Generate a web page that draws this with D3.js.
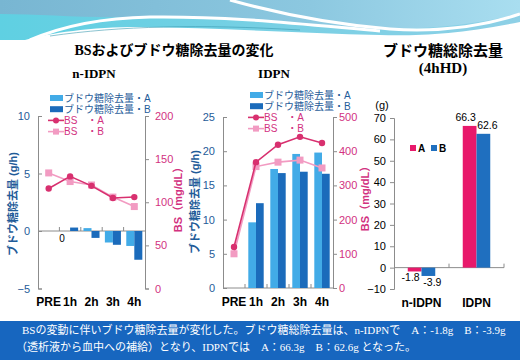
<!DOCTYPE html>
<html><head><meta charset="utf-8">
<script src="https://cdn.jsdelivr.net/npm/d3@7"></script>
<style>
html,body{margin:0;padding:0;background:#fff;}
svg{display:block;}
</style></head>
<body>
<svg id="c" width="520" height="360"></svg>
<script>
// ---------- data ----------
const times = ["PRE", "1h", "2h", "3h", "4h"];
const series = ["A", "B"];
// n-IDPN
const nIdpnGlucA = [null, 0, 0.25, -1.0, -1.3];
const nIdpnGlucB = [null, 0.3, -0.6, -1.2, -2.5];
const nIdpnBsA = [116, 130, 119, 105, 106];
const nIdpnBsB = [134, 124, 120, 106, 95];
// IDPN
const idpnGlucA = [null, 9.6, 17.4, 19.6, 19.8];
const idpnGlucB = [null, 12.4, 16.8, 17.0, 16.7];
const idpnBsA = [120, 368, 419, 442, 424];
const idpnBsB = [100, 355, 368, 374, 351];
// total removal (4hHD)
const totalGroups = ["n-IDPN", "IDPN"];
const totalA = [-1.8, 66.3];
const totalB = [-3.9, 62.6];
// ticks
const ticksL1 = [-5, 0, 5, 10];
const ticksR1 = [0, 50, 100, 150, 200];
const ticksL2 = [0, 5, 10, 15, 20, 25];
const ticksR2 = [0, 100, 200, 300, 400, 500];
const ticksT = [-10, 0, 10, 20, 30, 40, 50, 60, 70];
// texts
const mainTitle = "BSおよびブドウ糖除去量の変化";
const sub1 = "n-IDPN", sub2 = "IDPN";
const totTitle1 = "ブドウ糖総除去量", totTitle2 = "(4hHD)";
const legBarA = "ブドウ糖除去量・A", legBarB = "ブドウ糖除去量・B";
const legBsA = "BS　・A", legBsB = "BS　・B";
const yTitleL = "ブドウ糖除去量 (g/h)", yTitleR = "BS（mg/dL）";
const note1 = "BSの変動に伴いブドウ糖除去量が変化した。ブドウ糖総除去量は、n-IDPNで　A：-1.8g　B：-3.9g";
const note2 = "（透析液から血中への補給）となり、IDPNでは　A：66.3g　B：62.6g となった。";

// ---------- style ----------
const colBarA = "#42abe7", colBarB = "#1b6bbb";
const colBsA = "#d8306f", colBsB = "#f29bc2";
const colBlueTxt = "#1f5c99", colPinkTxt = "#d2327f";
const colTotA = "#e8196b", colTotB = "#1f6fbf";
const axisCol = "#8c8c8c";
const SANS = "'Liberation Sans', Arial, 'Noto Sans CJK JP', sans-serif";
const SERIF = "'Liberation Serif', 'Noto Sans CJK JP', serif";

const svg = d3.select("#c");

// ---------- top decoration ----------
const defs = svg.append("defs");
const g1 = defs.append("linearGradient").attr("id","topg").attr("x1","0").attr("x2","1").attr("y1","0").attr("y2","0");
g1.append("stop").attr("offset","0").attr("stop-color","#78b6d2");
g1.append("stop").attr("offset","0.6").attr("stop-color","#8cc8e0");
g1.append("stop").attr("offset","1").attr("stop-color","#a9def0");
const g2 = defs.append("linearGradient").attr("id","cyg").attr("x1","0").attr("x2","1").attr("y1","0").attr("y2","0");
g2.append("stop").attr("offset","0").attr("stop-color","#5fd0e2");
g2.append("stop").attr("offset","1").attr("stop-color","#8ed0e6");
svg.append("path").attr("d","M0,0 H520 V18 C470,30 430,34 380,33 C300,31 220,26 140,25 C90,25 50,32 20,40 H0 Z").attr("fill","url(#topg)");
svg.append("path").attr("d","M0,14 C40,14 80,18 130,17 C200,16 260,22 330,27 C390,31 450,30 520,14 V22 C460,34 420,36 380,35 C300,33 220,28 140,27 C90,27 50,33 25,40 H0 Z").attr("fill","url(#cyg)");
svg.append("path").attr("d","M30,40 C60,27 100,18 150,17 C230,16 300,24 380,31").attr("fill","none").attr("stroke","#fff").attr("stroke-width",3);
svg.append("path").attr("d","M230,0 C280,14 330,24 390,29 C450,33 490,24 520,14").attr("fill","none").attr("stroke","#fff").attr("stroke-width",3);
svg.append("path").attr("d","M50,36 C120,26 200,24 300,30").attr("fill","none").attr("stroke","#3d9ab0").attr("stroke-width",0.6);

// ---------- titles ----------
function txt(x, y, s, o) {
  const t = svg.append("text").attr("x", x).attr("y", y).text(s)
    .attr("font-family", o.ff || SANS).attr("font-size", o.fs || 11)
    .attr("font-weight", o.fw || "normal").attr("fill", o.fill || "#000")
    .attr("text-anchor", o.anchor || "middle");
  if (o.rot) t.attr("transform", `rotate(-90 ${x} ${y})`);
  if (o.db) t.attr("dominant-baseline", o.db);
  return t;
}
txt(174, 55, mainTitle, {ff: SERIF, fs: 14, fw: "bold"});
txt(94, 78, sub1, {ff: SERIF, fs: 13, fw: "bold"});
txt(274, 78, sub2, {ff: SERIF, fs: 13, fw: "bold"});
txt(443, 56, totTitle1, {ff: SERIF, fs: 15, fw: "bold"});
txt(443, 73, totTitle2, {ff: SERIF, fs: 15, fw: "bold"});

// ---------- dual axis chart ----------
function dualChart(cfg) {
  const g = svg.append("g");
  const x0 = d3.scaleBand().domain(times).range([cfg.left, cfg.right])
    .paddingInner(cfg.pad).paddingOuter(cfg.pad / 2);
  const x1 = d3.scaleBand().domain(series).range([0, x0.bandwidth()]);
  const yL = d3.scaleLinear().domain(cfg.domL).range([cfg.bottom, cfg.top]);
  const yR = d3.scaleLinear().domain(cfg.domR).range([cfg.bottom, cfg.top]);
  const cx = t => x0(t) + x0.bandwidth() / 2;

  // left axis
  const aL = g.append("g").attr("transform", `translate(${cfg.left},0)`)
    .call(d3.axisLeft(yL).tickValues(cfg.ticksL).tickSize(-4).tickPadding(cfg.padL));
  aL.select(".domain").attr("stroke", axisCol);
  aL.selectAll(".tick line").attr("stroke", axisCol);
  aL.selectAll("text").attr("font-family", SANS).attr("font-size", 11).attr("fill", colBlueTxt);
  // right axis
  const aR = g.append("g").attr("transform", `translate(${cfg.right},0)`)
    .call(d3.axisRight(yR).tickValues(cfg.ticksR).tickSize(4).tickPadding(cfg.padR));
  aR.select(".domain").attr("stroke", axisCol);
  aR.selectAll(".tick line").attr("stroke", axisCol);
  aR.selectAll("text").attr("font-family", SANS).attr("font-size", 11).attr("fill", colPinkTxt);

  // category axis line at zero
  const y0 = yL(0);
  g.append("line").attr("x1", cfg.left).attr("x2", cfg.right).attr("y1", y0).attr("y2", y0).attr("stroke", axisCol);
  const step = x0.step();
  times.forEach((t, i) => {
    if (i > 0) {
      const bx = cfg.left + i * step;
      g.append("line").attr("x1", bx).attr("x2", bx).attr("y1", y0).attr("y2", y0 - 4).attr("stroke", axisCol);
    }
  });
  // category labels
  g.selectAll("text.cat").data(times).join("text").attr("class", "cat")
    .attr("x", d => cx(d)).attr("y", cfg.catY).attr("text-anchor", "middle")
    .attr("font-family", SANS).attr("font-size", 12).attr("font-weight", "bold").text(d => d);

  // bars
  const bars = [];
  times.forEach((t, i) => {
    if (cfg.gA[i] !== null) bars.push({t, s: "A", v: cfg.gA[i]});
    if (cfg.gB[i] !== null) bars.push({t, s: "B", v: cfg.gB[i]});
  });
  g.selectAll("rect.bar").data(bars).join("rect").attr("class", "bar")
    .attr("x", d => x0(d.t) + x1(d.s)).attr("width", x1.bandwidth())
    .attr("y", d => Math.min(yL(d.v), yL(0))).attr("height", d => Math.abs(yL(d.v) - yL(0)))
    .attr("fill", d => d.s === "A" ? colBarA : colBarB);
  // zero data label
  if (cfg.zeroLabel) {
    bars.filter(d => d.v === 0).forEach(d => {
      g.append("text").attr("x", x0(d.t) + x1(d.s) + x1.bandwidth() / 2 - 4).attr("y", yL(0) + 11)
        .attr("text-anchor", "middle").attr("font-family", SANS).attr("font-size", 10).text("0");
    });
  }

  // lines
  const line = d3.line().x((d, i) => cx(times[i])).y(d => yR(d));
  g.append("path").attr("d", line(cfg.bsB)).attr("fill", "none").attr("stroke", colBsB).attr("stroke-width", 1.6);
  g.selectAll("rect.mb").data(cfg.bsB).join("rect").attr("class", "mb")
    .attr("x", (d, i) => cx(times[i]) - 3.5).attr("y", d => yR(d) - 3.5)
    .attr("width", 7).attr("height", 7).attr("fill", colBsB);
  g.append("path").attr("d", line(cfg.bsA)).attr("fill", "none").attr("stroke", colBsA).attr("stroke-width", 1.6);
  g.selectAll("circle.ma").data(cfg.bsA).join("circle").attr("class", "ma")
    .attr("cx", (d, i) => cx(times[i])).attr("cy", d => yR(d)).attr("r", 3.2).attr("fill", colBsA);

  // legend
  const lx = cfg.legX, ly = cfg.legY, dy = 11.2;
  g.append("rect").attr("x", lx).attr("y", ly - 3).attr("width", 13).attr("height", 6).attr("fill", colBarA);
  g.append("rect").attr("x", lx).attr("y", ly + dy - 3).attr("width", 13).attr("height", 6).attr("fill", colBarB);
  g.append("line").attr("x1", lx - 2).attr("x2", lx + 14).attr("y1", ly + 2 * dy).attr("y2", ly + 2 * dy).attr("stroke", colBsA).attr("stroke-width", 1.6);
  g.append("circle").attr("cx", lx + 6).attr("cy", ly + 2 * dy).attr("r", 3).attr("fill", colBsA);
  g.append("line").attr("x1", lx - 2).attr("x2", lx + 14).attr("y1", ly + 3 * dy).attr("y2", ly + 3 * dy).attr("stroke", colBsB).attr("stroke-width", 1.6);
  g.append("rect").attr("x", lx + 3).attr("y", ly + 3 * dy - 3).attr("width", 6).attr("height", 6).attr("fill", colBsB);
  [[legBarA, colBlueTxt], [legBarB, colBlueTxt], [legBsA, colPinkTxt], [legBsB, colPinkTxt]].forEach((p, i) => {
    g.append("text").attr("x", lx + 14).attr("y", ly + i * dy).attr("dy", "0.36em")
      .attr("font-family", SANS).attr("font-size", 10).attr("fill", p[1]).text(p[0]);
  });

  // axis titles
  txt(cfg.tLx, cfg.tLy, yTitleL, {fs: 11, fw: "bold", fill: colBlueTxt, rot: true, db: "central"});
  txt(cfg.tRx, cfg.tRy, yTitleR, {fs: 11, fw: "bold", fill: colPinkTxt, rot: true, db: "central"});
}

dualChart({
  left: 38, right: 145, top: 116, bottom: 288.5, pad: 0.25,
  domL: [-5, 10], domR: [0, 200], ticksL: ticksL1, ticksR: ticksR1, padL: 8, padR: 6,
  gA: nIdpnGlucA, gB: nIdpnGlucB, bsA: nIdpnBsA, bsB: nIdpnBsB,
  catY: 306, legX: 50, legY: 98, zeroLabel: true,
  tLx: 13, tLy: 204, tRx: 178, tRy: 197
});
dualChart({
  left: 223, right: 333, top: 117, bottom: 288, pad: 0.3,
  domL: [0, 25], domR: [0, 500], ticksL: ticksL2, ticksR: ticksR2, padL: 8, padR: 2,
  gA: idpnGlucA, gB: idpnGlucB, bsA: idpnBsA, bsB: idpnBsB,
  catY: 306, legX: 250, legY: 95, zeroLabel: false,
  tLx: 195, tLy: 202, tRx: 365, tRy: 196
});

// ---------- total removal chart ----------
(function () {
  const left = 394, right = 504;
  const x0 = d3.scaleBand().domain(totalGroups).range([left, right]).paddingInner(0.5).paddingOuter(0.25);
  const x1 = d3.scaleBand().domain(series).range([0, x0.bandwidth()]);
  const y = d3.scaleLinear().domain([-10, 70]).range([289, 118]);
  const g = svg.append("g");
  const ax = g.append("g").attr("transform", `translate(${left},0)`)
    .call(d3.axisLeft(y).tickValues(ticksT).tickSize(4).tickPadding(4));
  ax.select(".domain").attr("stroke", axisCol);
  ax.selectAll(".tick line").attr("stroke", axisCol);
  ax.selectAll("text").attr("font-family", SANS).attr("font-size", 11).attr("fill", "#000");
  const y0 = y(0);
  g.append("line").attr("x1", left).attr("x2", right).attr("y1", y0).attr("y2", y0).attr("stroke", axisCol);
  [1, 2].forEach(i => {
    const bx = left + i * (right - left) / 2;
    g.append("line").attr("x1", bx).attr("x2", bx).attr("y1", y0).attr("y2", y0 - 4).attr("stroke", axisCol);
  });
  const bars = [];
  totalGroups.forEach((c, i) => { bars.push({c, s: "A", v: totalA[i]}); bars.push({c, s: "B", v: totalB[i]}); });
  g.selectAll("rect.tb").data(bars).join("rect").attr("class", "tb")
    .attr("x", d => x0(d.c) + x1(d.s)).attr("width", x1.bandwidth())
    .attr("y", d => Math.min(y(d.v), y0)).attr("height", d => Math.abs(y(d.v) - y0))
    .attr("fill", d => d.s === "A" ? colTotA : colTotB);
  g.selectAll("text.tl").data(bars).join("text").attr("class", "tl")
    .attr("x", d => x0(d.c) + x1(d.s) + x1.bandwidth() / 2 + (d.s === "B" ? 4 : -4))
    .attr("y", d => d.v >= 0 ? y(d.v) - 5 : y(d.v) + 10)
    .attr("text-anchor", "middle").attr("font-family", SANS).attr("font-size", 10.5).text(d => d.v.toFixed(1));
  g.selectAll("text.tc").data(totalGroups).join("text").attr("class", "tc")
    .attr("x", d => x0(d) + x0.bandwidth() / 2).attr("y", 307).attr("text-anchor", "middle")
    .attr("font-family", SANS).attr("font-size", 12).attr("font-weight", "bold").text(d => d);
  txt(382, 109, "(g)", {fs: 11});
  // legend
  g.append("rect").attr("x", 410).attr("y", 145).attr("width", 6).attr("height", 6).attr("fill", colTotA);
  g.append("text").attr("x", 418).attr("y", 148).attr("dy", "0.36em").attr("font-family", SANS).attr("font-size", 10).attr("font-weight", "bold").text(series[0]);
  g.append("rect").attr("x", 431).attr("y", 145).attr("width", 6).attr("height", 6).attr("fill", colTotB);
  g.append("text").attr("x", 439).attr("y", 148).attr("dy", "0.36em").attr("font-family", SANS).attr("font-size", 10).attr("font-weight", "bold").text(series[1]);
})();

// ---------- bottom banner ----------
svg.append("rect").attr("x", 0).attr("y", 321).attr("width", 520).attr("height", 39).attr("fill", "#1766bf");
txt(22, 334, note1, {ff: SERIF, fs: 11, fill: "#fff", anchor: "start"});
txt(16, 351, note2, {ff: SERIF, fs: 11, fill: "#fff", anchor: "start"});
</script>
</body></html>
